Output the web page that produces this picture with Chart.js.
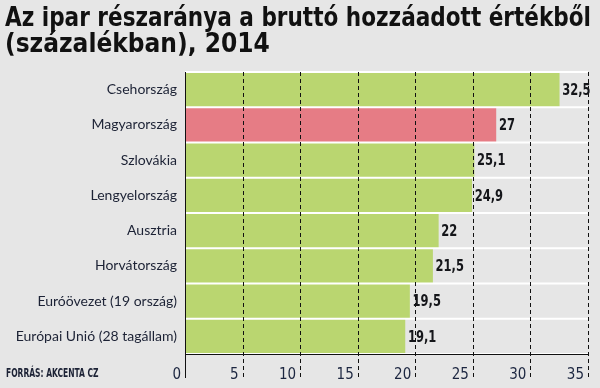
<!DOCTYPE html>
<html>
<head>
<meta charset="utf-8">
<script src="https://cdn.jsdelivr.net/npm/chart.js"></script>
<style>
  html, body { margin: 0; padding: 0; background: #e6e6e6; }
  #wrap { width: 600px; height: 388px; }
</style>
</head>
<body>
<div id="wrap"><canvas id="chart"></canvas></div>
<script>
var categories = ["Csehország", "Magyarország", "Szlovákia", "Lengyelország",
  "Ausztria", "Horvátország", "Euróövezet (19 ország)", "Európai Unió (28 tagállam)"];
var values = [32.5, 27, 25.1, 24.9, 22, 21.5, 19.5, 19.1];
var tickValues = [0, 5, 10, 15, 20, 25, 30, 35];
var highlight = "Magyarország";

var green = "#bad670";
var red = "#e67c85";
var narrow = "'DejaVu Sans Condensed', 'Liberation Sans Narrow', sans-serif";

function fmt(v) {
  return String(v).replace(".", ",");
}

// draw text squeezed horizontally, the print font is very condensed
function squeezed(ctx, text, x, y, sx) {
  ctx.save();
  ctx.translate(x, y);
  ctx.scale(sx, 1);
  ctx.fillText(text, 0, 0);
  ctx.restore();
}

// gridlines, separators, axis lines and value labels sit on top of the bars
var overlay = {
  id: "overlay",
  afterDatasetsDraw: function(chart) {
    var ctx = chart.ctx;
    var area = chart.chartArea;
    var x = chart.scales.x;
    var y = chart.scales.y;
    ctx.save();

    // white lines between the category bands
    ctx.strokeStyle = "#ffffff";
    ctx.lineWidth = 2;
    var band = y.getPixelForValue(1) - y.getPixelForValue(0);
    for (var i = 0; i <= categories.length; i++) {
      var yy = i < categories.length ? y.getPixelForValue(i) - band / 2 : area.bottom;
      ctx.beginPath();
      ctx.moveTo(area.left, yy);
      ctx.lineTo(area.right, yy);
      ctx.stroke();
    }

    // dashed vertical gridlines, running down through the tick labels
    ctx.strokeStyle = "#111111";
    ctx.lineWidth = 1;
    ctx.setLineDash([4, 3]);
    tickValues.forEach(function(t) {
      if (t === 0) return;
      var xx = Math.round(x.getPixelForValue(t)) + 0.5;
      ctx.beginPath();
      ctx.moveTo(xx, area.top);
      ctx.lineTo(xx, area.bottom + 24);
      ctx.stroke();
    });
    ctx.setLineDash([]);

    // solid axis lines
    var x0 = Math.round(x.getPixelForValue(0)) + 0.5;
    ctx.beginPath();
    ctx.moveTo(x0, area.top);
    ctx.lineTo(x0, area.bottom + 24);
    ctx.moveTo(area.left, Math.round(area.bottom) + 0.5);
    ctx.lineTo(area.right, Math.round(area.bottom) + 0.5);
    ctx.stroke();

    // value labels
    ctx.fillStyle = "#15161a";
    ctx.font = "bold 16px " + narrow;
    ctx.textAlign = "left";
    ctx.textBaseline = "middle";
    var meta = chart.getDatasetMeta(0);
    meta.data.forEach(function(bar, i) {
      squeezed(ctx, fmt(values[i]), bar.x + 3, bar.y + 1, 0.8);
    });

    // source note
    ctx.fillStyle = "#1c2235";
    ctx.font = "bold 12px " + narrow;
    squeezed(ctx, "FORRÁS: AKCENTA CZ", 6, area.bottom + 20, 0.7);
    ctx.restore();
  }
};

new Chart(document.getElementById("chart"), {
  type: "bar",
  data: {
    labels: categories,
    datasets: [{
      data: values,
      backgroundColor: categories.map(function(c) { return c === highlight ? red : green; }),
      borderWidth: 0,
      barPercentage: 1,
      categoryPercentage: 1
    }]
  },
  options: {
    indexAxis: "y",
    responsive: true,
    maintainAspectRatio: false,
    animation: false,
    layout: { padding: { left: 5, right: 9, top: 0, bottom: 0 } },
    plugins: {
      legend: { display: false },
      tooltip: { enabled: false },
      title: {
        display: true,
        text: ["Az ipar részaránya a bruttó hozzáadott értékből", "(százalékban), 2014"],
        align: "start",
        color: "#111111",
        font: { family: narrow, weight: "bold", size: 26, lineHeight: 1.0 },
        padding: { top: 6, bottom: 14 }
      }
    },
    scales: {
      x: {
        min: 0,
        max: 35,
        afterBuildTicks: function(scale) {
          scale.ticks = tickValues.map(function(v) { return { value: v }; });
        },
        afterFit: function(scale) { scale.height = 34; },
        grid: { display: false, drawTicks: false },
        border: { display: false },
        ticks: {
          align: "end",
          labelOffset: -4,
          padding: 12,
          color: "#1c2640",
          font: { family: narrow, size: 15 }
        }
      },
      y: {
        afterFit: function(scale) { scale.width = 180; },
        grid: { display: false, drawTicks: false },
        border: { display: false },
        ticks: {
          padding: 8,
          color: "#1c2235",
          font: { family: "Lato, 'Open Sans', sans-serif", size: 14 }
        }
      }
    }
  },
  plugins: [overlay]
});
</script>
</body>
</html>
